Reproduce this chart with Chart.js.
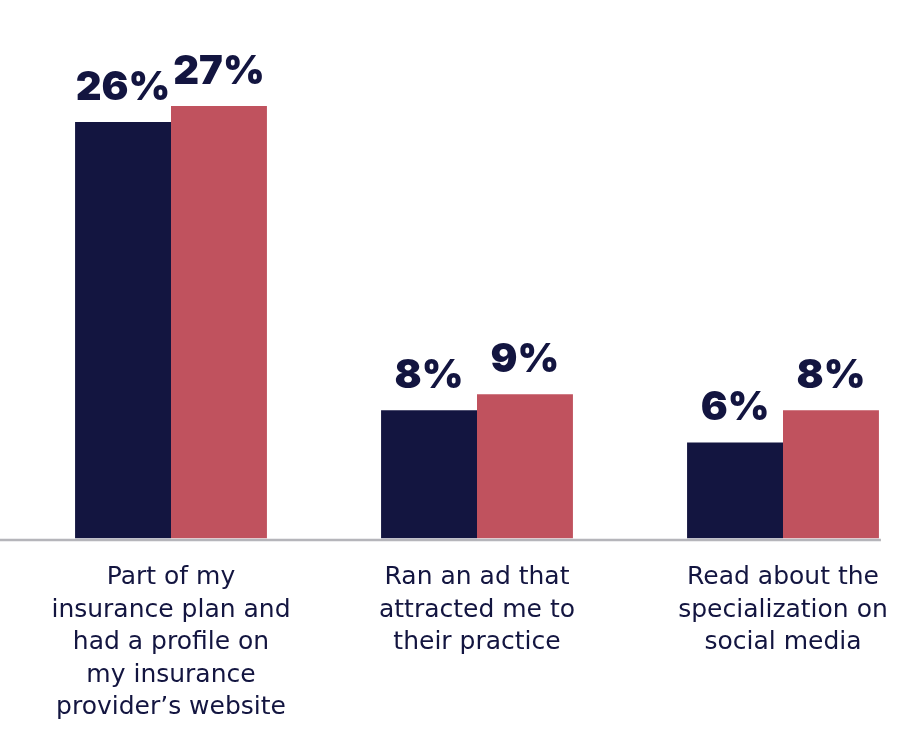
<!DOCTYPE html>
<html>
<head>
<meta charset="utf-8">
<script src="https://cdn.jsdelivr.net/npm/chart.js@4"></script>
<style>
  html, body { margin: 0; padding: 0; background: #fff; overflow: hidden; }
  #wrap { width: 936px; height: 754px; }
</style>
</head>
<body>
<div id="wrap"><canvas id="sourceChart"></canvas></div>
<script>
  const categories = [
    ['Part of my', 'insurance plan and', 'had a profile on', 'my insurance', 'provider\u2019s website'],
    ['Ran an ad that', 'attracted me to', 'their practice'],
    ['Read about the', 'specialization on', 'social media']
  ];
  const seriesA = [26, 8, 6];
  const seriesB = [27, 9, 8];

  const navy = '#131540';
  const rose = '#c0525e';

  // value labels above each bar
  const valueLabels = {
    id: 'valueLabels',
    afterDatasetsDraw(chart) {
      const ctx = chart.ctx;
      ctx.save();
      ctx.fillStyle = navy;
      ctx.font = '900 40px Inter, "DejaVu Sans", sans-serif';
      ctx.textAlign = 'center';
      ctx.textBaseline = 'alphabetic';
      chart.data.datasets.forEach((ds, i) => {
        chart.getDatasetMeta(i).data.forEach((bar, j) => {
          ctx.fillText(ds.data[j] + '%', bar.x, bar.y - 22);
        });
      });
      ctx.restore();
    }
  };

  // grey baseline running from the left edge to the last bar
  const baseline = {
    id: 'baseline',
    afterDatasetsDraw(chart) {
      const ctx = chart.ctx;
      const y = chart.scales.y.getPixelForValue(0);
      const meta = chart.getDatasetMeta(chart.data.datasets.length - 1);
      const last = meta.data[meta.data.length - 1];
      ctx.save();
      ctx.strokeStyle = '#b5b5ba';
      ctx.lineWidth = 2.5;
      ctx.beginPath();
      ctx.moveTo(0, y + 1.5);
      ctx.lineTo(last.x + last.width / 2 + 2, y + 1.5);
      ctx.stroke();
      ctx.restore();
    }
  };

  const ctx = document.getElementById('sourceChart').getContext('2d');

  new Chart(ctx, {
    type: 'bar',
    data: {
      labels: categories,
      datasets: [
        { label: 'A', data: seriesA, backgroundColor: navy },
        { label: 'B', data: seriesB, backgroundColor: rose }
      ]
    },
    options: {
      responsive: true,
      maintainAspectRatio: false,
      animation: false,
      categoryPercentage: 0.627,
      barPercentage: 1.0,
      layout: { padding: { top: 58, left: 18, right: 0, bottom: 7 } },
      plugins: {
        legend: { display: false },
        tooltip: { enabled: false }
      },
      scales: {
        x: {
          grid: { display: false, drawTicks: false },
          border: { display: false },
          ticks: {
            color: navy,
            padding: 23,
            maxRotation: 0,
            autoSkip: false,
            font: { family: '"DejaVu Sans", sans-serif', size: 25, lineHeight: 1.3 }
          }
        },
        y: {
          display: false,
          min: 0,
          max: 30
        }
      }
    },
    plugins: [valueLabels, baseline]
  });
</script>
</body>
</html>
